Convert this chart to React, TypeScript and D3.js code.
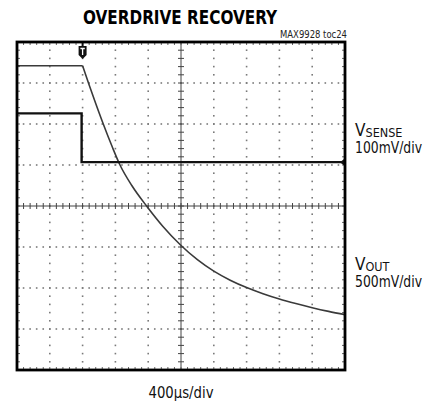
import { useEffect, useRef } from "react";
import * as d3 from "d3";

// scope screen: 10 horizontal divisions, 8 vertical (0 = centre line)
const xDivs = d3.range(0, 11);
const yDivs = d3.range(-4, 5);

// VSENSE trace (div units)
const senseT = [0, 1.97, 1.97, 10];
const senseV = [2.26, 2.26, 1.07, 1.07];

// VOUT trace: flat level before the trigger, then the recovery curve
const outLevelT = [0, 2.0];
const outLevelV = [3.42, 3.42];
const outDecayT = [2.0, 2.2, 2.4, 2.63, 2.9, 3.14, 3.5, 3.95, 4.45, 4.97, 5.5, 6.0, 6.5, 7.0, 7.5, 8.0, 8.5, 9.0, 9.5, 10];
const outDecayV = [3.42, 2.95, 2.5, 2.0, 1.45, 1.0, 0.5, 0, -0.5, -0.94, -1.31, -1.59, -1.81, -1.99, -2.14, -2.27, -2.38, -2.48, -2.57, -2.65];

const triggerAt = 2.0;

const FONT = "'Liberation Sans Narrow', 'DejaVu Sans Condensed', 'Liberation Sans', sans-serif";

export default function App() {
  const svgRef = useRef<SVGSVGElement | null>(null);

  useEffect(() => {
    if (!svgRef.current) return;
    const svg = d3.select(svgRef.current);
    svg.selectAll("*").remove();

    const x = d3.scaleLinear().domain([0, 10]).range([17, 345]);
    const y = d3.scaleLinear().domain([-4, 4]).range([370, 42]);

    const g = svg.append("g");

    // dotted graticule
    const minor = d3.range(0, 10.01, 0.2);
    const minorY = d3.range(-4, 4.01, 0.2);
    const dots = g.append("g").attr("fill", "#7a7a7a");
    for (const xd of xDivs.slice(1, -1)) {
      if (xd === 5) continue;
      for (const yd of minorY) {
        dots.append("rect").attr("x", x(xd) - 0.8).attr("y", y(yd) - 0.8).attr("width", 1.6).attr("height", 1.6);
      }
    }
    for (const yd of yDivs.slice(1, -1)) {
      if (yd === 0) continue;
      for (const xd of minor) {
        dots.append("rect").attr("x", x(xd) - 0.8).attr("y", y(yd) - 0.8).attr("width", 1.6).attr("height", 1.6);
      }
    }

    // centre crosshair with minor ticks
    const cross = g.append("g").attr("stroke", "#444").attr("stroke-width", 1);
    cross.append("line").attr("x1", x(0)).attr("x2", x(10)).attr("y1", y(0)).attr("y2", y(0));
    cross.append("line").attr("x1", x(5)).attr("x2", x(5)).attr("y1", y(-4)).attr("y2", y(4));
    for (const xd of minor) {
      cross.append("line").attr("x1", x(xd)).attr("x2", x(xd)).attr("y1", y(0) - 3).attr("y2", y(0) + 3);
    }
    for (const yd of minorY) {
      cross.append("line").attr("x1", x(5) - 3).attr("x2", x(5) + 3).attr("y1", y(yd)).attr("y2", y(yd));
    }

    // edge ticks
    const edge = g.append("g").attr("stroke", "#666").attr("stroke-width", 1);
    for (const xd of minor) {
      edge.append("line").attr("x1", x(xd)).attr("x2", x(xd)).attr("y1", y(4)).attr("y2", y(4) + 3);
      edge.append("line").attr("x1", x(xd)).attr("x2", x(xd)).attr("y1", y(-4)).attr("y2", y(-4) - 3);
    }
    for (const yd of minorY) {
      edge.append("line").attr("x1", x(0)).attr("x2", x(0) + 3).attr("y1", y(yd)).attr("y2", y(yd));
      edge.append("line").attr("x1", x(10)).attr("x2", x(10) - 3).attr("y1", y(yd)).attr("y2", y(yd));
    }

    // traces
    const lin = d3.line<[number, number]>().x((d) => x(d[0])).y((d) => y(d[1]));
    const smooth = d3.line<[number, number]>().x((d) => x(d[0])).y((d) => y(d[1])).curve(d3.curveMonotoneX);
    const zip = (a: number[], b: number[]) => a.map((v, i) => [v, b[i]] as [number, number]);

    g.append("path")
      .attr("d", lin(zip(outLevelT, outLevelV)))
      .attr("fill", "none").attr("stroke", "#3a3a3a").attr("stroke-width", 1.6);
    g.append("path")
      .attr("d", smooth(zip(outDecayT, outDecayV)))
      .attr("fill", "none").attr("stroke", "#3a3a3a").attr("stroke-width", 1.6);
    g.append("path")
      .attr("d", lin(zip(senseT, senseV)))
      .attr("fill", "none").attr("stroke", "#111").attr("stroke-width", 2.4);

    // channel marker at right edge
    g.append("path")
      .attr("d", `M${x(10) - 5},${y(senseV[3])} L${x(10)},${y(senseV[3]) - 4} L${x(10)},${y(senseV[3]) + 4} Z`)
      .attr("fill", "#111");

    // trigger marker
    const tx = x(triggerAt);
    const tm = g.append("g");
    tm.append("path")
      .attr("d", `M${tx - 4},${y(4) + 4} L${tx + 4},${y(4) + 4} L${tx + 4},${y(4) + 13} L${tx},${y(4) + 17} L${tx - 4},${y(4) + 13} Z`)
      .attr("fill", "#111");
    tm.append("line").attr("x1", tx).attr("x2", tx).attr("y1", y(4)).attr("y2", y(4) + 4).attr("stroke", "#111").attr("stroke-width", 2);
    tm.append("path")
      .attr("d", `M${tx - 2.2},${y(4) + 6.5} L${tx + 2.2},${y(4) + 6.5} M${tx},${y(4) + 6.5} L${tx},${y(4) + 13}`)
      .attr("stroke", "#fff").attr("stroke-width", 1.3);

    // frame
    g.append("rect")
      .attr("x", x(0)).attr("y", y(4))
      .attr("width", x(10) - x(0)).attr("height", y(-4) - y(4))
      .attr("fill", "none").attr("stroke", "#000").attr("stroke-width", 2.8);

    // texts
    svg.append("text")
      .attr("x", 180).attr("y", 24)
      .attr("text-anchor", "middle")
      .attr("font-family", FONT).attr("font-weight", 700).attr("font-size", 20)
      .attr("textLength", 194).attr("lengthAdjust", "spacingAndGlyphs")
      .text("OVERDRIVE RECOVERY");

    svg.append("text")
      .attr("x", 347).attr("y", 38)
      .attr("text-anchor", "end")
      .attr("font-family", FONT).attr("font-size", 10).attr("fill", "#222")
      .attr("textLength", 67).attr("lengthAdjust", "spacingAndGlyphs")
      .text("MAX9928 toc24");

    const label = (vy: number, sub: string, subW: number, scale: string) => {
      const t = svg.append("text").attr("x", 355).attr("y", vy)
        .attr("font-family", FONT).attr("font-size", 17).attr("fill", "#111");
      t.append("tspan").text("V");
      t.append("tspan").attr("font-size", 13).attr("dy", 1)
        .attr("textLength", subW).attr("lengthAdjust", "spacingAndGlyphs").text(sub);
      svg.append("text").attr("x", 355).attr("y", vy + 17)
        .attr("font-family", FONT).attr("font-size", 15).attr("fill", "#111")
        .attr("textLength", 67).attr("lengthAdjust", "spacingAndGlyphs")
        .text(scale);
    };
    label(136, "SENSE", 37, "100mV/div");
    label(270, "OUT", 24, "500mV/div");

    svg.append("text")
      .attr("x", 181).attr("y", 398)
      .attr("text-anchor", "middle")
      .attr("font-family", FONT).attr("font-size", 15).attr("fill", "#111")
      .attr("textLength", 65).attr("lengthAdjust", "spacingAndGlyphs")
      .text("400µs/div");
  }, []);

  return (
    <svg
      ref={svgRef}
      width={440}
      height={406}
      style={{ position: "absolute", left: 0, top: 0, background: "#fff" }}
    />
  );
}
